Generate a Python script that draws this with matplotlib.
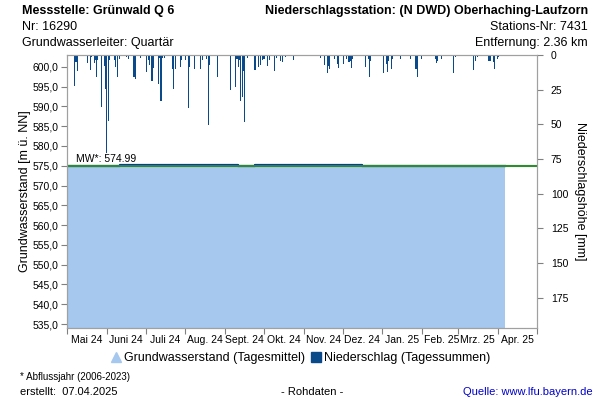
import numpy as np
import pandas as pd
import matplotlib
matplotlib.use('Agg')
import matplotlib.pyplot as plt
import matplotlib.dates as mdates
from matplotlib.lines import Line2D
from matplotlib.ticker import FuncFormatter

plt.rcParams['font.family'] = ['Liberation Sans', 'DejaVu Sans']

# Grundwasserstand (Tagesmittel) - Stufen
gw_dates = ['2024-05-01', '2024-06-11', '2024-09-11', '2024-09-24', '2024-12-16', '2025-04-06']
gw_levels = [574.90, 575.30, 574.90, 575.30, 574.90, 574.90]
mw_value = 574.99

# Niederschlag (Tagessummen) in mm
ns_dates = ['2024-05-03', '2024-05-07', '2024-05-08', '2024-05-09', '2024-05-17', '2024-05-19',
            '2024-05-20', '2024-05-22', '2024-05-23', '2024-05-24', '2024-05-25', '2024-05-28',
            '2024-05-30', '2024-05-31', '2024-06-01', '2024-06-02', '2024-06-03', '2024-06-07',
            '2024-06-08', '2024-06-09', '2024-06-11', '2024-06-16', '2024-06-18', '2024-06-22',
            '2024-06-23', '2024-06-27', '2024-07-02', '2024-07-03', '2024-07-04', '2024-07-06',
            '2024-07-07', '2024-07-11', '2024-07-12', '2024-07-13', '2024-07-14', '2024-07-16',
            '2024-07-22', '2024-07-23', '2024-07-24', '2024-07-28', '2024-07-29', '2024-08-01',
            '2024-08-03', '2024-08-04', '2024-08-08', '2024-08-13', '2024-08-14', '2024-08-17',
            '2024-08-19', '2024-08-20', '2024-08-26', '2024-09-05', '2024-09-09', '2024-09-10',
            '2024-09-11', '2024-09-12', '2024-09-13', '2024-09-14', '2024-09-15', '2024-09-16',
            '2024-09-18', '2024-09-24', '2024-09-27', '2024-09-28', '2024-09-30', '2024-10-01',
            '2024-10-04', '2024-10-05', '2024-10-06', '2024-10-09', '2024-10-11', '2024-10-14',
            '2024-10-15', '2024-10-18', '2024-10-24', '2024-11-14', '2024-11-17', '2024-11-19',
            '2024-11-20', '2024-11-21', '2024-11-25', '2024-11-27', '2024-11-28', '2024-12-02',
            '2024-12-04', '2024-12-06', '2024-12-07', '2024-12-08', '2024-12-09', '2024-12-15',
            '2024-12-19', '2024-12-21', '2024-12-22', '2024-12-23', '2025-01-02', '2025-01-04',
            '2025-01-05', '2025-01-06', '2025-01-08', '2025-01-09', '2025-01-15', '2025-01-23',
            '2025-01-27', '2025-01-28', '2025-01-31', '2025-02-11', '2025-02-12', '2025-02-13',
            '2025-02-16', '2025-02-25', '2025-02-27', '2025-03-13', '2025-03-14', '2025-03-16',
            '2025-03-24', '2025-03-25', '2025-03-26', '2025-03-28', '2025-03-29', '2025-03-31',
            '2025-04-01']
ns_values = [0.7, 22.6, 5.3, 11.8, 5.8, 10.6,
             1.4, 5.8, 3.4, 16.0, 3.9, 37.6,
             7.7, 24.3, 71.0, 47.5, 3.4, 3.9,
             8.7, 16.0, 2.9, 1.4, 2.9, 15.9,
             17.3, 2.2, 12.3, 3.4, 7.0, 18.6,
             9.4, 21.0, 2.2, 33.0, 2.2, 2.2,
             9.9, 24.3, 9.9, 8.7, 3.9, 3.4,
             38.0, 9.0, 9.9, 10.0, 3.4, 2.9,
             50.4, 7.0, 16.0, 25.0, 23.4, 2.9,
             9.0, 3.9, 33.5, 30.0, 11.8, 48.4,
             2.2, 11.0, 8.7, 7.0, 3.9, 2.9,
             7.7, 3.4, 1.0, 11.8, 2.2, 4.6,
             5.3, 1.4, 3.4, 2.0, 7.5, 13.3,
             8.0, 10.4, 3.1, 6.7, 9.2, 6.7,
             3.1, 5.0, 4.3, 9.2, 3.1, 0.7,
             8.4, 2.7, 15.7, 4.3, 13.3, 6.7,
             12.3, 4.3, 10.4, 3.1, 2.7, 3.1,
             9.9, 15.9, 2.7, 2.7, 6.0, 4.3,
             2.7, 12.8, 1.2, 10.8, 4.3, 1.2,
             4.3, 4.3, 4.3, 5.0, 10.4, 3.1,
             1.2]

month_labels = ['Mai 24', 'Juni 24', 'Juli 24', 'Aug. 24', 'Sept. 24', 'Okt. 24',
                'Nov. 24', 'Dez. 24', 'Jan. 25', 'Feb. 25', 'Mrz. 25', 'Apr. 25']

gw_x = pd.to_datetime(gw_dates)
ns_x = pd.to_datetime(ns_dates)
x_start = pd.Timestamp('2024-05-01')
x_end = pd.Timestamp('2025-05-01')

fig = plt.figure(figsize=(6, 4), dpi=100)
ax = fig.add_axes([0.1117, 0.18, 0.7833, 0.6825])

fill_col = '#a6c8ee'
ax.fill_between(gw_x, 500, gw_levels, step='post', color=fill_col, lw=0, zorder=1)
ax.step(gw_x, gw_levels, where='post', color='#0a2fc8', lw=1.6, zorder=2)
ax.axhline(mw_value, color='#2e8b2e', lw=1.5, zorder=3)
ax.text(pd.Timestamp('2024-05-08'), mw_value + 0.5, 'MW*: 574.99', fontsize=7.5,
        va='bottom', ha='left', zorder=4)

ax.set_ylim(534.0, 603.0)
ax.set_yticks(np.arange(535, 601, 5))
ax.yaxis.set_major_formatter(FuncFormatter(lambda v, p: f'{v:.1f}'.replace('.', ',')))
ax.set_ylabel('Grundwasserstand [m ü. NN]', fontsize=9, labelpad=1)

ax.xaxis.set_major_locator(mdates.MonthLocator())
ax.xaxis.set_major_formatter(plt.NullFormatter())
mids = pd.date_range(x_start, periods=12, freq='MS') + pd.Timedelta(days=15)
ax.set_xticks(mids, minor=True)
ax.set_xticklabels(month_labels, minor=True, fontsize=7.5)
ax.tick_params(axis='x', which='minor', length=0, pad=5)
ax.tick_params(axis='x', which='major', length=4, color='#808080')
ax.tick_params(axis='y', length=4, color='#808080', labelsize=7.5, pad=2)
ax.set_xlim(x_start, x_end)

for s in ax.spines.values():
    s.set_color('#a0a0a0')

ax2 = ax.twinx()
ax2.bar(ns_x, ns_values, width=0.85, color='#0b4a8a', lw=0, align='center')
ax2.set_ylim(197, 0)
ax2.set_yticks(np.arange(0, 176, 25))
ax2.tick_params(axis='y', length=4, color='#808080', labelsize=7.5, pad=6)
ax2.set_ylabel('Niederschlagshöhe [mm]', fontsize=9, rotation=-90, labelpad=13)
ax2.set_xlim(x_start, x_end)
for s in ax2.spines.values():
    s.set_color('#a0a0a0')

# Legende
handles = [Line2D([], [], ls='', marker='^', ms=7, color=fill_col),
           Line2D([], [], ls='', marker='s', ms=7, color='#0b4a8a')]
fig.legend(handles, ['Grundwasserstand (Tagesmittel)', 'Niederschlag (Tagessummen)'],
           loc='center', bbox_to_anchor=(0.50, 0.105), ncol=2, frameon=False,
           fontsize=9, handletextpad=0.1, columnspacing=0.4, handlelength=1.0)

# Kopf
fig.text(0.037, 0.972, 'Messstelle: Grünwald Q 6', fontsize=9, fontweight='bold', va='center')
fig.text(0.037, 0.933, 'Nr: 16290', fontsize=9, va='center')
fig.text(0.037, 0.893, 'Grundwasserleiter: Quartär', fontsize=9, va='center')
fig.text(0.98, 0.972, 'Niederschlagsstation: (N DWD) Oberhaching-Laufzorn', fontsize=9,
         fontweight='bold', va='center', ha='right')
fig.text(0.98, 0.933, 'Stations-Nr: 7431', fontsize=9, va='center', ha='right')
fig.text(0.98, 0.893, 'Entfernung: 2.36 km', fontsize=9, va='center', ha='right')

# Fuss
fig.text(0.033, 0.057, '* Abflussjahr (2006-2023)', fontsize=7, va='center')
fig.text(0.033, 0.02, 'erstellt:  07.04.2025', fontsize=8, va='center')
fig.text(0.52, 0.02, '- Rohdaten -', fontsize=8, va='center', ha='center')
fig.text(0.988, 0.02, 'Quelle: www.lfu.bayern.de', fontsize=8, va='center', ha='right',
         color='#0000cc')

fig.savefig('out.png', dpi=100)
